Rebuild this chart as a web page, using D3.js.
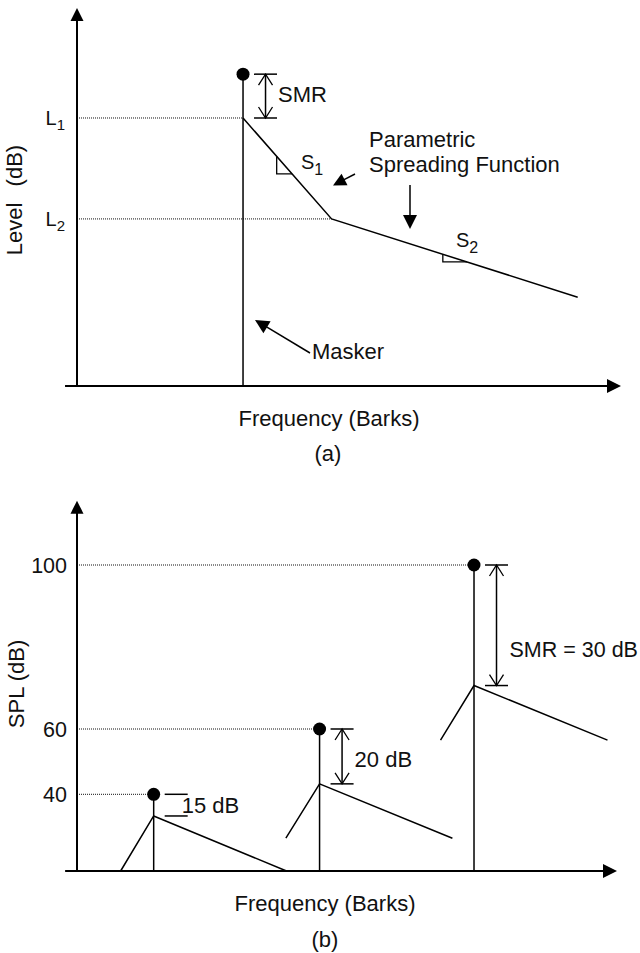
<!DOCTYPE html>
<html>
<head>
<meta charset="utf-8">
<script src="https://cdn.jsdelivr.net/npm/d3@7"></script>
<style>
  body { margin: 0; background: #fff; }
  text { font-family: "Liberation Sans", Arial, Helvetica, sans-serif; font-size: 22px; fill: #111; }
</style>
</head>
<body>
<svg id="chart" width="640" height="953"></svg>
<script>
// ---- panel (a): one masker and its parametric spreading function
var barksA = [7.63, 11.70, 23.01];        // masker, slope break, tail
var spreadLevelA = [70.9, 44.2, 23.5];    // L1, L2, tail (dB, schematic)
var maskerLevelA = 82.5;                  // tone level (dot)
var levelTicksA = [70.9, 44.2];
var levelSubsA = ["1", "2"];

// ---- panel (b): three maskers with their SMRs
var splTicks = [40, 60, 100];
var maskerBarksB = [3.55, 11.23, 18.38];
var maskerSplB = [40, 60, 100];
var peakSplB = [28.7, 43.2, 70.6];
var leftBarksB = [2.02, 9.67, 16.83];
var leftSplB = [0, 17.1, 56.6];
var rightBarksB = [9.70, 17.38, 24.56];
var rightSplB = [0, 17.1, 56.6];
var smrTextB = ["15 dB", "20 dB", "SMR = 30 dB"];

var svg = d3.select("#chart");

var xA = d3.scaleLinear().domain([0, 25]).range([77, 621]);
var yA = d3.scaleLinear().domain([0, 100]).range([386, 8]);
var xB = d3.scaleLinear().domain([0, 25]).range([77, 617]);
// schematic level axis, not linear in dB
var yB = d3.scaleLinear().domain([0, 40, 60, 100]).range([871, 794.3, 729, 565]);

var line = d3.line();

function seg(g, x1, y1, x2, y2, w, col) {
  return g.append("line")
    .attr("x1", x1).attr("y1", y1).attr("x2", x2).attr("y2", y2)
    .attr("stroke", col || "#000")
    .attr("stroke-width", w || 1.5);
}

// line with a filled arrowhead at (x2,y2)
function arrow(g, x1, y1, x2, y2, len, hw, w) {
  var a = Math.atan2(y2 - y1, x2 - x1), c = Math.cos(a), s = Math.sin(a);
  var bx = x2 - len * c, by = y2 - len * s;
  seg(g, x1, y1, bx + c, by + s, w || 1.5);
  g.append("path")
    .attr("d", "M" + x2 + "," + y2 + "L" + (bx - hw * s) + "," + (by + hw * c) +
      "L" + (bx + hw * s) + "," + (by - hw * c) + "Z")
    .attr("fill", "#000");
}

// double headed dimension arrow with end bars (open heads)
function dimension(g, x, yTop, yBot, withShaft) {
  seg(g, x - 11.5, yTop, x + 11.5, yTop, 1.5);
  seg(g, x - 11.5, yBot, x + 11.5, yBot, 1.5);
  if (!withShaft) return;
  seg(g, x, yTop, x, yBot, 1.5);
  g.append("path")
    .attr("d", "M" + (x - 7) + "," + (yTop + 11) + "L" + x + "," + yTop + "L" + (x + 7) + "," + (yTop + 11) +
      "M" + (x - 7) + "," + (yBot - 11) + "L" + x + "," + yBot + "L" + (x + 7) + "," + (yBot - 11))
    .attr("fill", "none").attr("stroke", "#000").attr("stroke-width", 1.3);
}

function dotted(g, x1, y, x2) {
  seg(g, x1, y, x2, y, 1, "#111").attr("stroke-dasharray", "1,1");
}

// ================= panel (a) =================
var ga = svg.append("g");

// dotted level guides
dotted(ga, xA(0), yA(spreadLevelA[0]), xA(barksA[0]));
dotted(ga, xA(0), yA(spreadLevelA[1]), xA(barksA[1]));

// axes
arrow(ga, xA(0), yA(0) + 1, xA(0), yA(100), 13, 6.5, 2);
arrow(ga, xA(-0.55), yA(0), xA(25), yA(0), 14, 7, 2);

ga.append("g")
  .attr("transform", "translate(" + xA(0) + ",0)")
  .call(d3.axisLeft(yA).tickValues(levelTicksA).tickSize(0).tickPadding(12).tickFormat(""))
  .call(g => g.select(".domain").remove())
  .selectAll(".tick text")
  .attr("dy", "0.3em")
  .each(function(d, i) {
    var t = d3.select(this);
    t.append("tspan").text("L").style("font-size", "20px");
    t.append("tspan").text(levelSubsA[i]).attr("dy", 5).style("font-size", "15px");
  });

// masker stem + dot
seg(ga, xA(barksA[0]), yA(0), xA(barksA[0]), yA(maskerLevelA), 1.5);
ga.append("circle").attr("cx", xA(barksA[0])).attr("cy", yA(maskerLevelA)).attr("r", 6.5).attr("fill", "#000");

// spreading function
var ptsA = barksA.map((b, i) => [xA(b), yA(spreadLevelA[i])]);
ga.append("path").attr("d", line(ptsA)).attr("fill", "none").attr("stroke", "#000").attr("stroke-width", 1.5);

// slope markers
function slopeMark(g, p, q, t1, t2) {
  var a = [p[0] + (q[0] - p[0]) * t1, p[1] + (q[1] - p[1]) * t1];
  var b = [p[0] + (q[0] - p[0]) * t2, p[1] + (q[1] - p[1]) * t2];
  g.append("path").attr("d", "M" + a[0] + "," + a[1] + "V" + b[1] + "H" + b[0])
    .attr("fill", "none").attr("stroke", "#000").attr("stroke-width", 1.3);
}
slopeMark(ga, ptsA[0], ptsA[1], 0.38, 0.554);
slopeMark(ga, ptsA[1], ptsA[2], 0.452, 0.55);

function subLabel(g, x, y, main, sub) {
  var t = g.append("text").attr("x", x).attr("y", y);
  t.append("tspan").text(main).style("font-size", "20px");
  t.append("tspan").text(sub).attr("dy", 6).style("font-size", "16px");
}
subLabel(ga, 301, 169, "S", "1");
subLabel(ga, 456, 246.5, "S", "2");

// SMR
var smrX = xA(barksA[0]) + 22.5;
dimension(ga, smrX, yA(maskerLevelA), yA(spreadLevelA[0]), true);
ga.append("text").attr("x", xA(barksA[0]) + 35).attr("y", 102).text("SMR");

// annotations
ga.append("text").attr("x", 369).attr("y", 146.5).text("Parametric");
ga.append("text").attr("x", 369).attr("y", 172).text("Spreading Function");
arrow(ga, 355, 174, 333, 185.5, 13, 6.5, 1.5);
arrow(ga, 410, 185, 410, 229, 14, 7, 1.5);
arrow(ga, 310, 353, 255, 320, 14, 7, 1.5);
ga.append("text").attr("x", 312).attr("y", 359).text("Masker");

ga.append("text").attr("x", 329).attr("y", 425.5).attr("text-anchor", "middle").text("Frequency (Barks)");
ga.append("text").attr("x", 328).attr("y", 460.5).attr("text-anchor", "middle").text("(a)");
var lvl = ga.append("text").attr("transform", "translate(22,200) rotate(-90)").attr("text-anchor", "middle");
lvl.append("tspan").text("Level");
lvl.append("tspan").attr("dx", 10).text(" (dB)");

// ================= panel (b) =================
var gb = svg.append("g");

maskerBarksB.forEach((b, i) => dotted(gb, xB(0), yB(maskerSplB[i]), xB(b) - 6));

arrow(gb, xB(0), yB(0) + 1, xB(0), yB(115.7), 13, 6.5, 2);
arrow(gb, xB(-0.55), yB(0), xB(25), yB(0), 14, 7, 2);

gb.append("g")
  .attr("transform", "translate(" + xB(0) + ",0)")
  .call(d3.axisLeft(yB).tickValues(splTicks).tickSize(0).tickPadding(10).tickFormat(d3.format("d")))
  .call(g => g.select(".domain").remove())
  .selectAll(".tick text")
  .attr("fill", "#111")
  .style("font-size", "21.5px")
  .style("font-family", "'Liberation Sans', Arial, sans-serif")
  .attr("dy", "0.34em");

// spreading functions
maskerBarksB.forEach((b, i) => {
  var pts = [[xB(leftBarksB[i]), yB(leftSplB[i])], [xB(b), yB(peakSplB[i])], [xB(rightBarksB[i]), yB(rightSplB[i])]];
  gb.append("path").attr("d", line(pts)).attr("fill", "none").attr("stroke", "#000").attr("stroke-width", 1.5);
});

// masker stems + dots
gb.selectAll(".stem").data(maskerBarksB).enter().append("line")
  .attr("class", "stem")
  .attr("x1", d => xB(d)).attr("x2", d => xB(d))
  .attr("y1", yB(0)).attr("y2", (d, i) => yB(maskerSplB[i]))
  .attr("stroke", "#000").attr("stroke-width", 1.5);
gb.selectAll(".tone").data(maskerBarksB).enter().append("circle")
  .attr("class", "tone")
  .attr("cx", d => xB(d)).attr("cy", (d, i) => yB(maskerSplB[i]))
  .attr("r", 6.5).attr("fill", "#000");

// SMR dimensions and labels
var labelDx = [28, 35, 35.5];
var labelY = [813.3, 766.7, 657.3];
maskerBarksB.forEach((b, i) => {
  dimension(gb, xB(b) + 22.5, yB(maskerSplB[i]), yB(peakSplB[i]), i > 0);
  gb.append("text").attr("x", xB(b) + labelDx[i]).attr("y", labelY[i])
    .style("font-size", i == 2 ? "21.5px" : "22px").text(smrTextB[i]);
});

gb.append("text").attr("x", 325).attr("y", 911).attr("text-anchor", "middle").text("Frequency (Barks)");
gb.append("text").attr("x", 325).attr("y", 947).attr("text-anchor", "middle").text("(b)");
gb.append("text").attr("transform", "translate(24,684) rotate(-90)").attr("text-anchor", "middle").text("SPL (dB)");
</script>
</body>
</html>
